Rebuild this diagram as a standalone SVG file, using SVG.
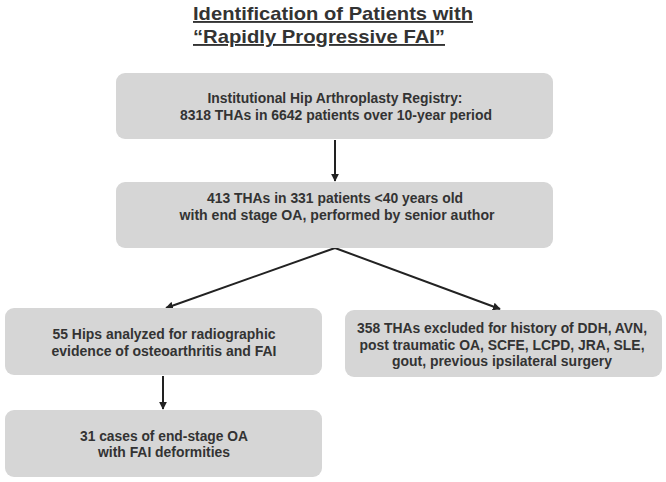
<svg xmlns="http://www.w3.org/2000/svg" width="666" height="482" viewBox="0 0 666 482">
<defs>
<style>
.box{fill:#d6d6d6;}
.t{font-family:"Liberation Sans",Arial,sans-serif;font-weight:bold;font-size:14px;fill:#333;text-anchor:middle;}
.title{font-family:"Liberation Sans",Arial,sans-serif;font-weight:bold;font-size:19px;fill:#333;text-decoration:underline;}
.c{stroke:#222;stroke-width:2;fill:none;marker-end:url(#ah);}
</style>
<marker id="ah" viewBox="0 0 10 10" refX="9" refY="5" markerWidth="4" markerHeight="4" orient="auto" markerUnits="strokeWidth">
<path d="M0,0 L10,5 L0,10 z" fill="#222"/>
</marker>
</defs>
<rect width="666" height="482" fill="#fff"/>
<g id="title">
<text class="title" x="193" y="20" textLength="280" lengthAdjust="spacingAndGlyphs">Identification of Patients with</text>
<text class="title" x="193" y="43" textLength="252" lengthAdjust="spacingAndGlyphs">“Rapidly Progressive FAI”</text>
</g>
<g id="connectors">
<line class="c" x1="335" y1="140" x2="335" y2="181"/>
<polyline class="c" points="335,248 166,308"/>
<polyline class="c" points="335,248 500,309"/>
<line class="c" x1="163" y1="376" x2="163" y2="409"/>
</g>
<g id="n1">
<rect class="box" x="116" y="73" width="437" height="66" rx="9"/>
<text class="t" x="335" y="103" textLength="255" lengthAdjust="spacingAndGlyphs">Institutional Hip Arthroplasty Registry:</text>
<text class="t" x="336" y="120" textLength="312" lengthAdjust="spacingAndGlyphs">8318 THAs in 6642 patients over 10-year period</text>
</g>
<g id="n2">
<rect class="box" x="116" y="182" width="437" height="66" rx="9"/>
<text class="t" x="335" y="203" textLength="256" lengthAdjust="spacingAndGlyphs">413 THAs in 331 patients &lt;40 years old</text>
<text class="t" x="337" y="220" textLength="315" lengthAdjust="spacingAndGlyphs">with end stage OA, performed by senior author</text>
</g>
<g id="n3">
<rect class="box" x="5" y="308" width="317" height="67" rx="9"/>
<text class="t" x="164" y="339" textLength="223" lengthAdjust="spacingAndGlyphs">55 Hips analyzed for radiographic</text>
<text class="t" x="164" y="356" textLength="225" lengthAdjust="spacingAndGlyphs">evidence of osteoarthritis and FAI</text>
</g>
<g id="n4">
<rect class="box" x="345" y="310" width="317" height="67" rx="9"/>
<text class="t" x="502" y="333" textLength="290" lengthAdjust="spacingAndGlyphs">358 THAs excluded for history of DDH, AVN,</text>
<text class="t" x="502" y="350" textLength="285" lengthAdjust="spacingAndGlyphs">post traumatic OA, SCFE, LCPD, JRA, SLE,</text>
<text class="t" x="502" y="366" textLength="220" lengthAdjust="spacingAndGlyphs">gout, previous ipsilateral surgery</text>
</g>
<g id="n5">
<rect class="box" x="5" y="410" width="317" height="67" rx="9"/>
<text class="t" x="164" y="441" textLength="168" lengthAdjust="spacingAndGlyphs">31 cases of end-stage OA</text>
<text class="t" x="164" y="457" textLength="132" lengthAdjust="spacingAndGlyphs">with FAI deformities</text>
</g>
</svg>
